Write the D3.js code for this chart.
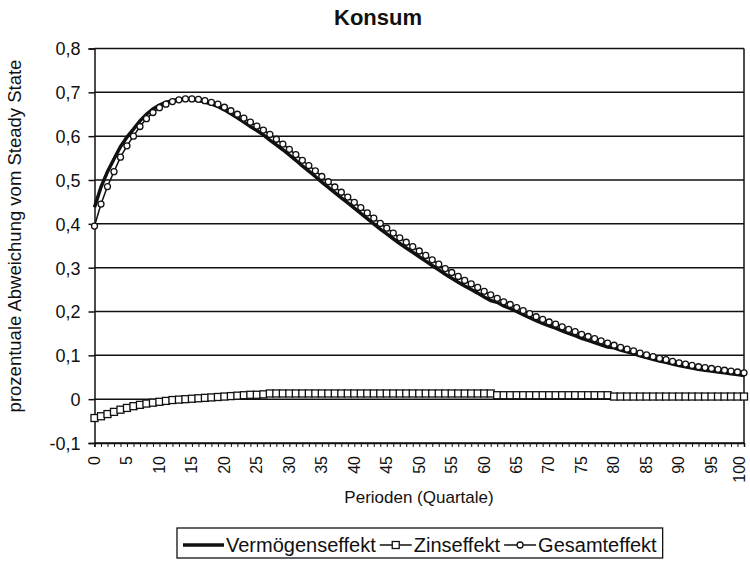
<!DOCTYPE html>
<html>
<head>
<meta charset="utf-8">
<script src="https://cdn.jsdelivr.net/npm/d3@7/dist/d3.min.js"></script>
<style>
  body { margin: 0; background: #fff; }
  svg { font-family: "Liberation Sans", Arial, sans-serif; }
</style>
</head>
<body>
<script>
// series, one value per period (0..100)
const vermoegen = [
  0.438, 0.484, 0.519, 0.548, 0.576, 0.598, 0.616, 0.635, 0.650, 0.662,
  0.671, 0.677, 0.681, 0.684, 0.685, 0.684, 0.682, 0.678, 0.673, 0.668,
  0.660, 0.651, 0.642, 0.632, 0.622, 0.613, 0.603, 0.591, 0.580, 0.569,
  0.557, 0.545, 0.532, 0.520, 0.508, 0.495, 0.483, 0.471, 0.459, 0.448,
  0.436, 0.424, 0.412, 0.400, 0.388, 0.377, 0.366, 0.355, 0.345, 0.335,
  0.325, 0.315, 0.305, 0.295, 0.285, 0.276, 0.267, 0.258, 0.250, 0.242,
  0.233, 0.225, 0.221, 0.213, 0.207, 0.200, 0.193, 0.186, 0.179, 0.173,
  0.167, 0.162, 0.156, 0.150, 0.145, 0.139, 0.134, 0.129, 0.124, 0.119,
  0.117, 0.112, 0.108, 0.104, 0.099, 0.095, 0.091, 0.087, 0.084, 0.080,
  0.077, 0.074, 0.071, 0.068, 0.066, 0.064, 0.062, 0.060, 0.058, 0.056,
  0.054
];
const zins = [
  -0.043, -0.039, -0.034, -0.029, -0.024, -0.020, -0.016, -0.013, -0.010, -0.008,
  -0.006, -0.004, -0.002, -0.001, 0.000, 0.001, 0.002, 0.003, 0.004, 0.005,
  0.006, 0.007, 0.008, 0.009, 0.010, 0.010, 0.011, 0.013, 0.013, 0.013,
  0.013, 0.013, 0.013, 0.013, 0.013, 0.013, 0.013, 0.013, 0.013, 0.013,
  0.013, 0.013, 0.013, 0.013, 0.013, 0.013, 0.013, 0.013, 0.013, 0.013,
  0.013, 0.013, 0.013, 0.013, 0.013, 0.013, 0.013, 0.013, 0.013, 0.013,
  0.013, 0.013, 0.009, 0.009, 0.009, 0.009, 0.009, 0.009, 0.009, 0.009,
  0.009, 0.009, 0.009, 0.009, 0.009, 0.009, 0.009, 0.009, 0.009, 0.009,
  0.006, 0.006, 0.006, 0.006, 0.006, 0.006, 0.006, 0.006, 0.006, 0.006,
  0.006, 0.006, 0.006, 0.006, 0.006, 0.006, 0.006, 0.006, 0.006, 0.006,
  0.006
];
const gesamt = [
  0.395, 0.445, 0.485, 0.519, 0.552, 0.578, 0.600, 0.622, 0.640, 0.654,
  0.665, 0.673, 0.679, 0.683, 0.685, 0.685, 0.684, 0.681, 0.677, 0.673,
  0.666, 0.658, 0.650, 0.641, 0.632, 0.623, 0.614, 0.604, 0.593, 0.582,
  0.570, 0.558, 0.545, 0.533, 0.521, 0.508, 0.496, 0.484, 0.472, 0.461,
  0.449, 0.437, 0.425, 0.413, 0.401, 0.390, 0.379, 0.368, 0.358, 0.348,
  0.338, 0.328, 0.318, 0.308, 0.298, 0.289, 0.280, 0.271, 0.263, 0.255,
  0.246, 0.238, 0.230, 0.222, 0.216, 0.209, 0.202, 0.195, 0.188, 0.182,
  0.176, 0.171, 0.165, 0.159, 0.154, 0.148, 0.143, 0.138, 0.133, 0.128,
  0.123, 0.118, 0.114, 0.110, 0.105, 0.101, 0.097, 0.093, 0.090, 0.086,
  0.083, 0.080, 0.077, 0.074, 0.072, 0.070, 0.068, 0.066, 0.064, 0.062,
  0.060
];
const yTicks = [-0.1, 0, 0.1, 0.2, 0.3, 0.4, 0.5, 0.6, 0.7, 0.8];
const yTickLabels = ["-0,1", "0", "0,1", "0,2", "0,3", "0,4", "0,5", "0,6", "0,7", "0,8"];
const xLabels = [0, 5, 10, 15, 20, 25, 30, 35, 40, 45, 50, 55, 60, 65, 70, 75, 80, 85, 90, 95, 100];
const legendNames = ["Vermögenseffekt", "Zinseffekt", "Gesamteffekt"];

window.onload = function() {
  createChart();
}

function createChart() {
  const w = 750;
  const h = 562;
  const left = 94.5, right = 744, top = 48.5, bottom = 443;

  let svg = d3.select("body")
              .append("svg")
              .attr("width", w)
              .attr("height", h);

  let xScale = d3.scaleLinear().domain([0, 100]).range([left, right]);
  let yScale = d3.scaleLinear().domain([-0.1, 0.8]).range([bottom, top]);

  // horizontal grid lines
  svg.append("g")
     .selectAll("line")
     .data(yTicks)
     .enter()
     .append("line")
     .attr("x1", left)
     .attr("x2", right)
     .attr("y1", d => yScale(d))
     .attr("y2", d => yScale(d))
     .attr("stroke", "#111")
     .attr("stroke-width", 1.5);

  // right border
  svg.append("line")
     .attr("x1", right).attr("x2", right)
     .attr("y1", top).attr("y2", bottom)
     .attr("stroke", "#111").attr("stroke-width", 1.5);

  // y axis
  let yAxis = d3.axisLeft(yScale)
                .tickValues(yTicks)
                .tickSize(6)
                .tickPadding(8)
                .tickFormat((d, i) => yTickLabels[i]);
  let gy = svg.append("g")
              .attr("transform", "translate(" + left + ",0)")
              .call(yAxis);
  gy.select(".domain").attr("stroke", "#111").attr("stroke-width", 1.5);
  gy.selectAll(".tick line").attr("stroke", "#111").attr("stroke-width", 1.5);
  gy.selectAll("text")
    .attr("fill", "#111")
    .style("font-size", "18px")
    .attr("dy", "0.36em");

  // x axis, a tick per period, labels every 5
  let xAxis = d3.axisBottom(xScale)
                .tickValues(gesamt.map((d, i) => i))
                .tickSize(4)
                .tickFormat(d => xLabels.includes(d) ? d : "");
  let gx = svg.append("g")
              .attr("transform", "translate(0," + bottom + ")")
              .call(xAxis);
  gx.select(".domain").attr("stroke", "#111").attr("stroke-width", 1.5);
  gx.selectAll(".tick line").attr("stroke", "#111").attr("stroke-width", 1);
  gx.selectAll("text")
    .attr("fill", "#111")
    .style("font-size", "16px")
    .style("text-anchor", "end")
    .attr("transform", "rotate(-90)")
    .attr("x", -13)
    .attr("y", 0)
    .attr("dy", d => d == 100 ? "0.05em" : "0.3em");

  // series
  let line = d3.line()
               .x((d, i) => xScale(i))
               .y(d => yScale(d));

  svg.append("path")
     .datum(vermoegen)
     .attr("d", line)
     .attr("fill", "none")
     .attr("stroke", "#111")
     .attr("stroke-width", 3.5);

  svg.append("path")
     .datum(zins)
     .attr("d", line)
     .attr("fill", "none")
     .attr("stroke", "#111")
     .attr("stroke-width", 1.5);
  svg.append("g")
     .selectAll("rect")
     .data(zins)
     .enter()
     .append("rect")
     .attr("x", (d, i) => xScale(i) - 3.5)
     .attr("y", d => yScale(d) - 3.5)
     .attr("width", 7)
     .attr("height", 7)
     .attr("fill", "#fff")
     .attr("stroke", "#111")
     .attr("stroke-width", 1.3);

  svg.append("path")
     .datum(gesamt)
     .attr("d", line)
     .attr("fill", "none")
     .attr("stroke", "#111")
     .attr("stroke-width", 1.5);
  svg.append("g")
     .selectAll("circle")
     .data(gesamt)
     .enter()
     .append("circle")
     .attr("cx", (d, i) => xScale(i))
     .attr("cy", d => yScale(d))
     .attr("r", 3)
     .attr("fill", "#fff")
     .attr("stroke", "#111")
     .attr("stroke-width", 1.3);

  // titles
  svg.append("text")
     .attr("x", 378)
     .attr("y", 25)
     .style("text-anchor", "middle")
     .style("font-size", "22px")
     .style("font-weight", "bold")
     .attr("fill", "#111")
     .text("Konsum");
  svg.append("text")
     .attr("x", 419)
     .attr("y", 503)
     .style("text-anchor", "middle")
     .style("font-size", "17px")
     .attr("fill", "#111")
     .text("Perioden (Quartale)");
  svg.append("text")
     .attr("transform", "translate(21,236) rotate(-90)")
     .style("text-anchor", "middle")
     .style("font-size", "18.5px")
     .attr("fill", "#111")
     .text("prozentuale Abweichung vom Steady State");

  // legend
  let lg = svg.append("g");
  let box = lg.append("rect")
              .attr("fill", "#fff")
              .attr("stroke", "#111")
              .attr("stroke-width", 1.3);
  let cx = 183;
  const ly = 545;
  legendNames.forEach(function(name, i) {
    let len = i == 0 ? 41 : 32;
    lg.append("line")
      .attr("x1", cx).attr("x2", cx + len)
      .attr("y1", ly).attr("y2", ly)
      .attr("stroke", "#111")
      .attr("stroke-width", i == 0 ? 3.5 : 1.5);
    if (i == 1) {
      lg.append("rect")
        .attr("x", cx + len / 2 - 3.5).attr("y", ly - 3.5)
        .attr("width", 7).attr("height", 7)
        .attr("fill", "#fff").attr("stroke", "#111").attr("stroke-width", 1.3);
    }
    if (i == 2) {
      lg.append("circle")
        .attr("cx", cx + len / 2).attr("cy", ly).attr("r", 3)
        .attr("fill", "#fff").attr("stroke", "#111").attr("stroke-width", 1.3);
    }
    let t = lg.append("text")
              .attr("x", cx + len + 2)
              .attr("y", ly + 7)
              .style("font-size", "20px")
              .attr("fill", "#111")
              .text(name);
    cx = cx + len + 2 + t.node().getComputedTextLength() + 4;
  });
  box.attr("x", 177).attr("y", 528)
     .attr("width", cx - 177 + 2).attr("height", 30);
}
</script>
</body>
</html>
